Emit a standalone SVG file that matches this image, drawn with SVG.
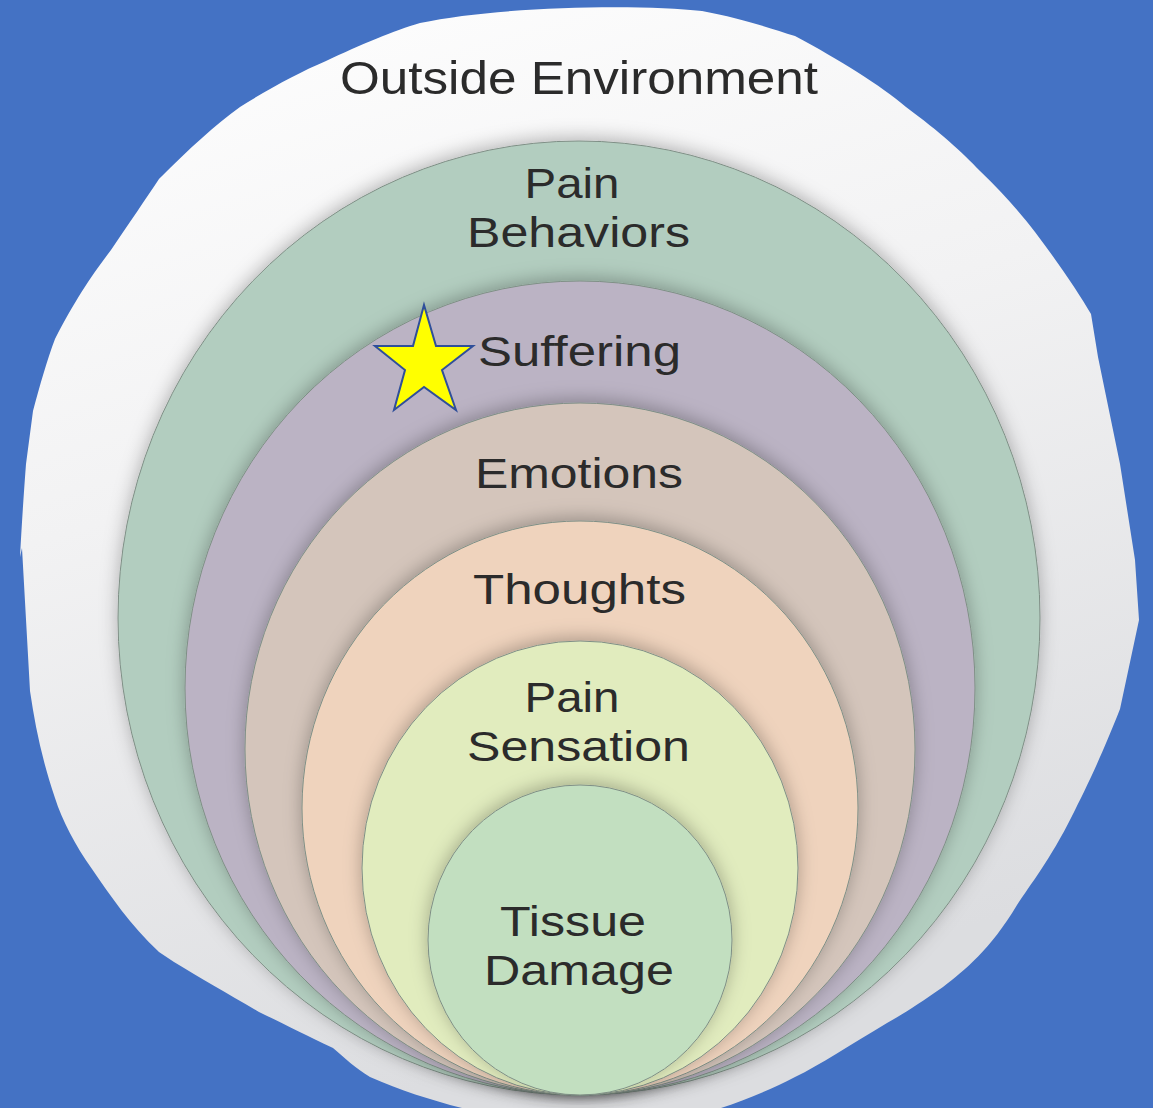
<svg xmlns="http://www.w3.org/2000/svg" width="1153" height="1108" viewBox="0 0 1153 1108">
<defs>
<linearGradient id="blobGrad" x1="0" y1="0" x2="0.3" y2="1">
<stop offset="0" stop-color="#ffffff"/>
<stop offset="0.45" stop-color="#f2f2f3"/>
<stop offset="1" stop-color="#dcdde0"/>
</linearGradient>
<filter id="shade" x="-10%" y="-10%" width="120%" height="120%">
<feDropShadow dx="0" dy="-3" stdDeviation="9" flood-color="#000" flood-opacity="0.28"/>
</filter>
</defs>
<style>
.ring{stroke:#7f8f86;stroke-width:1;filter:url(#shade)}
.lbl{font-family:"Liberation Sans",Arial,sans-serif;font-size:42px;fill:#2b2b2b;text-anchor:middle}
</style>
<rect width="1153" height="1108" fill="#4472C4"/>
<g id="outside-environment">
<path d="M420,23 C500,6 640,4 702,11 C740,18 770,28 795,36 C840,60 880,85 906,107 C940,132 962,152 980,171 C1005,195 1022,215 1035,232 C1060,265 1080,295 1091,314 L1098,357 L1120,464 L1135,560 L1139,620 L1120,709 C1100,760 1085,790 1072,816 C1050,860 1030,885 1017,905 C990,950 965,970 943,987 C920,1003 905,1013 887,1023 C850,1045 820,1065 795,1077 C770,1090 745,1100 721,1108 L462,1108 C430,1100 400,1090 370,1077 C355,1068 345,1058 333,1048 C305,1035 280,1022 259,1012 C230,995 200,978 174,962 L159,952 C130,925 110,895 92,869 C75,845 62,820 55,798 C42,760 35,725 30,691 L22,548 L20,557 C22,520 24,490 26,464 L33,411 C40,385 47,360 55,339 C75,300 92,275 111,250 C130,222 145,200 159,179 C190,148 215,125 240,107 C270,88 300,72 326,61 C360,45 395,30 420,23 Z" fill="url(#blobGrad)"/>
<text class="lbl" x="579" y="94" style="font-size:46px" textLength="478" lengthAdjust="spacingAndGlyphs">Outside Environment</text>
</g>
<g id="pain-behaviors">
<ellipse class="ring" cx="579" cy="618" rx="461" ry="477" fill="#b2cdbf"/>
<text class="lbl"><tspan x="572" y="198" textLength="95" lengthAdjust="spacingAndGlyphs">Pain</tspan><tspan x="578.5" y="247" textLength="223" lengthAdjust="spacingAndGlyphs">Behaviors</tspan></text>
</g>
<g id="suffering">
<ellipse class="ring" cx="580" cy="688" rx="395" ry="407" fill="#bbb3c4"/>
<text class="lbl" x="579.5" y="366" textLength="203" lengthAdjust="spacingAndGlyphs">Suffering</text>
</g>
<g id="emotions">
<ellipse class="ring" cx="580" cy="749" rx="335" ry="346" fill="#d4c5bb"/>
<text class="lbl" x="579" y="488" textLength="208" lengthAdjust="spacingAndGlyphs">Emotions</text>
</g>
<g id="thoughts">
<ellipse class="ring" cx="580" cy="808" rx="278" ry="287" fill="#efd3bd"/>
<text class="lbl" x="579.5" y="604" textLength="213" lengthAdjust="spacingAndGlyphs">Thoughts</text>
</g>
<g id="pain-sensation">
<ellipse class="ring" cx="580" cy="868" rx="218" ry="227" fill="#e1ecbe"/>
<text class="lbl"><tspan x="572" y="712" textLength="95" lengthAdjust="spacingAndGlyphs">Pain</tspan><tspan x="578.5" y="761" textLength="223" lengthAdjust="spacingAndGlyphs">Sensation</tspan></text>
</g>
<g id="tissue-damage">
<ellipse class="ring" cx="580" cy="940" rx="152" ry="155" fill="#c2dfc0"/>
<text class="lbl"><tspan x="573" y="936" textLength="146" lengthAdjust="spacingAndGlyphs">Tissue</tspan><tspan x="579" y="985" textLength="190" lengthAdjust="spacingAndGlyphs">Damage</tspan></text>
</g>
<g id="star">
<polygon points="424,305 436,346 473,346 442,370 456,410 424,387 394,410 405,370 375,346 413,346" fill="#ffff00" stroke="#2f4f9a" stroke-width="2" stroke-linejoin="miter"/>
</g>
<g id="connectors"></g>
</svg>
